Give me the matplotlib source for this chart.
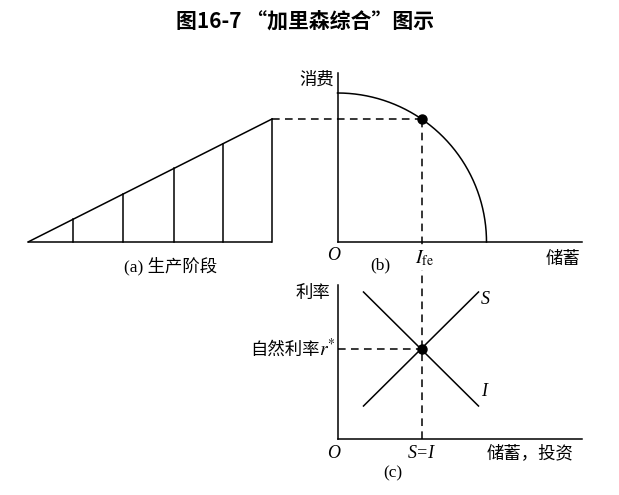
import numpy as np
import matplotlib
matplotlib.use("Agg")
import matplotlib.pyplot as plt

plt.rcParams['font.family'] = ['Noto Sans CJK SC', 'DejaVu Sans']
plt.rcParams['mathtext.fontset'] = 'stix'

# ---- data (diagram units) ----
# panel (a): production stages, cumulative length and stage heights
stage_x = [0, 45, 95, 146, 195, 244]
stage_top = 123            # height of the final stage
# panel (b): production possibilities frontier (consumption vs saving)
ppf_radius = 149
i_fe = 84                  # full-employment investment
# panel (c): loanable funds market
s_line_x = [26, 141]
s_line_y = [33, 147]
i_line_x = [26, 141]
i_line_y = [147, 33]
eq_q = 84
eq_r = 90

W, H = 619, 495
fig = plt.figure(figsize=(W / 100, H / 100), dpi=100)

def add_px_axes(left, bottom_px, width, height):
    # bottom_px is the y pixel (from top) of the axes bottom
    return fig.add_axes([left / W, 1 - bottom_px / H, width / W, height / H])

LW = 1.1
serif = ['Liberation Serif', 'Noto Sans CJK SC']

# ---- panel (a) ----
axa = add_px_axes(28, 242, 244, 123)
axa.set_xlim(0, 244); axa.set_ylim(0, 123)
axa.axis('off')
xs = np.array(stage_x, dtype=float)
hs = stage_top * xs / xs[-1]
axa.plot([xs[0], xs[-1]], [0, 0], color='black', lw=LW, clip_on=False, solid_capstyle='butt')
axa.plot([xs[0], xs[-1]], [0, hs[-1]], color='black', lw=LW, clip_on=False)
for x, h in zip(xs[1:], hs[1:]):
    axa.plot([x, x], [0, h], color='black', lw=LW, clip_on=False)

# ---- panel (b) ----
axb = add_px_axes(337.5, 242, 244, 169)
axb.set_xlim(0, 244); axb.set_ylim(0, 169)
axb.axis('off')
axb.plot([0, 0], [0, 169], color='black', lw=LW, clip_on=False)
axb.plot([0, 244], [0, 0], color='black', lw=LW, clip_on=False)
t = np.linspace(0, np.pi / 2, 200)
axb.plot(ppf_radius * np.sin(t), ppf_radius * np.cos(t), color='black', lw=LW, clip_on=False)
c_fe = np.sqrt(ppf_radius ** 2 - i_fe ** 2)
axb.plot([-(337.5 - 272), i_fe], [c_fe, c_fe], color='black', lw=LW, ls=(0, (5, 3.5)), clip_on=False)
axb.plot([i_fe], [c_fe], 'o', color='black', ms=6.5, clip_on=False)

# ---- panel (c) ----
axc = add_px_axes(337.5, 439, 244, 154)
axc.set_xlim(0, 244); axc.set_ylim(0, 154)
axc.axis('off')
axc.plot([0, 0], [0, 154], color='black', lw=LW, clip_on=False)
axc.plot([0, 244], [0, 0], color='black', lw=LW, clip_on=False)
axc.plot(s_line_x, s_line_y, color='black', lw=LW, clip_on=False)
axc.plot(i_line_x, i_line_y, color='black', lw=LW, clip_on=False)
axc.plot([0, eq_q], [eq_r, eq_r], color='black', lw=LW, ls=(0, (5, 3.5)), clip_on=False)
axc.plot([eq_q, eq_q], [0, 439 - 119], color='black', lw=LW, ls=(0, (5, 3.5)), clip_on=False)
axc.plot([eq_q], [eq_r], 'o', color='black', ms=6.5, clip_on=False)

# ---- text overlay (pixel coordinates) ----
axt = fig.add_axes([0, 0, 1, 1], facecolor='none')
axt.set_xlim(0, W); axt.set_ylim(H, 0)
axt.axis('off')

axt.text(305, 21, '图16-7 “加里森综合”图示', ha='center', va='center',
         fontsize=15, fontweight='bold')

axt.text(171, 266, '(a) 生产阶段', ha='center', va='center', fontsize=12.5, family=serif)

axt.text(317, 80, '消费', ha='center', va='center', fontsize=12.5)
axt.text(334, 255, 'O', ha='center', va='center', fontsize=13, family='Liberation Serif', style='italic')
axt.text(380, 265, '(b)', ha='center', va='center', fontsize=12.5, family='Liberation Serif')
axt.text(424, 258, r'$I_{\mathrm{fe}}$', ha='center', va='center', fontsize=14,
         bbox=dict(boxstyle='square,pad=0.1', facecolor='white', edgecolor='none'))
axt.text(563, 259, '储蓄', ha='center', va='center', fontsize=12.5)

axt.text(313, 293, '利率', ha='center', va='center', fontsize=12.5)
axt.text(320, 350, '自然利率', ha='right', va='center', fontsize=12.5)
axt.text(319, 350, r'$r^{*}$', ha='left', va='center', fontsize=14)
axt.text(485, 300, 'S', ha='center', va='center', fontsize=13, family='Liberation Serif', style='italic')
axt.text(484, 392, 'I', ha='center', va='center', fontsize=13, family='Liberation Serif', style='italic')

axt.text(334, 453, 'O', ha='center', va='center', fontsize=13, family='Liberation Serif', style='italic')
axt.text(421, 453, 'S=I', ha='center', va='center', fontsize=13, family='Liberation Serif', style='italic')
axt.text(530, 453, '储蓄，投资', ha='center', va='center', fontsize=12.5)
axt.text(393, 473, '(c)', ha='center', va='center', fontsize=12.5, family='Liberation Serif')

fig.savefig('out.png', dpi=100, facecolor='white')
